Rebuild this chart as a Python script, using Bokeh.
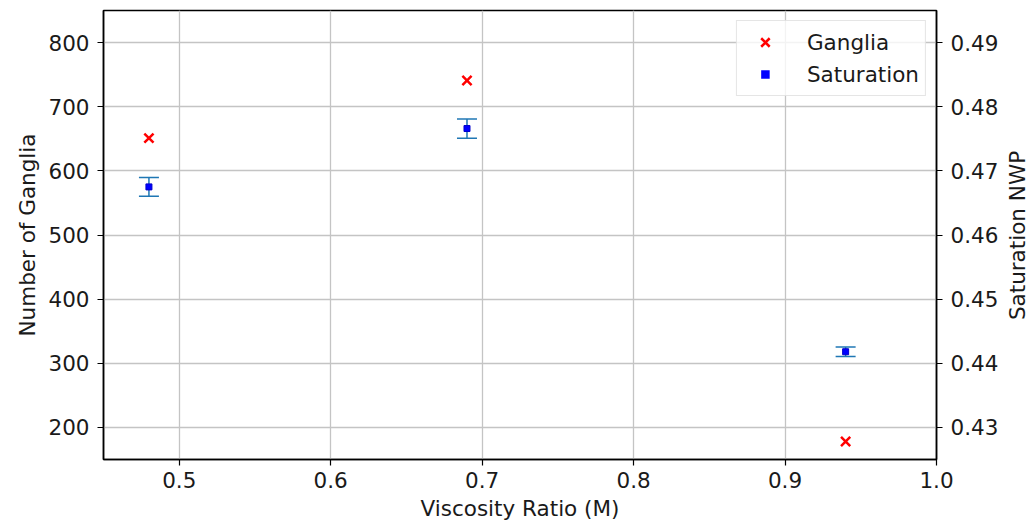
import math
from bokeh.plotting import figure
from bokeh.models import (Range1d, LinearAxis, FixedTicker, Whisker, TeeHead, ColumnDataSource,
                          Legend, LegendItem, PrintfTickFormatter, Label)
from bokeh.embed import file_html
from bokeh.resources import INLINE

viscosity_ratio = [0.48, 0.69, 0.94]
ganglia = [651, 741, 178]
saturation = [0.4675, 0.4766, 0.4418]
saturation_err = [0.00145, 0.0015, 0.00073]

x_ticks = [0.5, 0.6, 0.7, 0.8, 0.9, 1.0]
left_ticks = [200, 300, 400, 500, 600, 700, 800]
right_ticks = [0.43, 0.44, 0.45, 0.46, 0.47, 0.48, 0.49]

FONT = "DejaVu Sans"
FS = "21.5px"

X0, X1 = 0.45, 1.0
S0, S1 = 0.425, 0.495

p = figure(width=1035, height=524, output_backend="svg", toolbar_location=None,
           x_range=Range1d(X0, X1), y_range=Range1d(150, 850),
           min_border_left=103, min_border_right=99, min_border_top=10, min_border_bottom=65)
p.extra_y_ranges = {"sat": Range1d(S0, S1)}

p.outline_line_color = "black"
p.outline_line_width = 1.5

right_axis = LinearAxis(y_range_name="sat")
p.add_layout(right_axis, "right")

p.xaxis.ticker = FixedTicker(ticks=x_ticks)
p.xaxis.formatter = PrintfTickFormatter(format="%.1f")
p.yaxis[0].ticker = FixedTicker(ticks=left_ticks)
right_axis.ticker = FixedTicker(ticks=right_ticks)
right_axis.formatter = PrintfTickFormatter(format="%.2f")

p.xaxis.axis_label = "Viscosity Ratio (M)"
p.yaxis[0].axis_label = "Number of Ganglia"

for ax in [p.xaxis[0], p.yaxis[0], right_axis]:
    ax.major_label_text_font = FONT
    ax.major_label_text_font_size = FS
    ax.major_label_text_color = "#1a1a1a"
    ax.axis_label_text_font = FONT
    ax.axis_label_text_font_size = FS
    ax.axis_label_text_font_style = "normal"
    ax.axis_label_text_color = "#1a1a1a"
    ax.minor_tick_line_color = None
    ax.major_tick_in = 0
    ax.major_tick_out = 6
    ax.major_tick_line_color = "black"
    ax.major_tick_line_width = 1.2
    ax.axis_line_color = "black"
    ax.axis_line_width = 1.5

p.xaxis.major_label_standoff = 6
p.xaxis.axis_label_standoff = 5
p.yaxis[0].major_label_standoff = 8
p.yaxis[0].axis_label_standoff = 5
right_axis.major_label_standoff = 8

# right-hand axis title, reading bottom-to-top like the left one (own side panel)
p.add_layout(Label(x=16, y=224, x_units="screen", y_units="screen",
                   text="Saturation NWP", angle=math.pi / 2,
                   text_align="center", text_baseline="middle",
                   text_font=FONT, text_font_size=FS, text_color="#1a1a1a"), "right")

p.xgrid.grid_line_color = "#c4c4c4"
p.ygrid.grid_line_color = "#c4c4c4"
p.xgrid.grid_line_width = 1.3
p.ygrid.grid_line_width = 1.3
p.xgrid.ticker = FixedTicker(ticks=x_ticks)
p.ygrid.ticker = FixedTicker(ticks=left_ticks)

src = ColumnDataSource(dict(
    x=viscosity_ratio, g=ganglia, s=saturation,
    lo=[s - e for s, e in zip(saturation, saturation_err)],
    hi=[s + e for s, e in zip(saturation, saturation_err)],
))

wh = Whisker(source=src, base="x", lower="lo", upper="hi", y_range_name="sat",
             line_color="#1f77b4", line_width=1.5,
             upper_head=TeeHead(size=20, line_color="#1f77b4", line_width=1.5),
             lower_head=TeeHead(size=20, line_color="#1f77b4", line_width=1.5))
p.add_layout(wh)

r_g = p.scatter("x", "g", source=src, marker="x", size=13, line_color="red", line_width=2.5)
r_s = p.scatter("x", "s", source=src, y_range_name="sat", marker="square", size=6,
                fill_color="blue", line_color="#0000cc", line_width=1)

# legend-only glyph (NaN position, not drawn in the plot) so the legend square stays small
r_s_leg = p.scatter(x=[float("nan")], y=[float("nan")], y_range_name="sat", marker="square",
                    size=6, fill_color="blue", line_color="white", line_width=3.5)

legend = Legend(items=[LegendItem(label="Ganglia", renderers=[r_g]),
                       LegendItem(label="Saturation", renderers=[r_s_leg])],
                location="top_right", margin=10, padding=6, spacing=2,
                label_height=30, glyph_height=30, glyph_width=44, label_standoff=20,
                label_text_font=FONT, label_text_font_size=FS, label_text_color="#1a1a1a",
                border_line_color="#cccccc", border_line_width=1.2,
                background_fill_color="white", background_fill_alpha=0.8)
p.add_layout(legend, "center")

open("out.html", "w").write(file_html(p, INLINE))
